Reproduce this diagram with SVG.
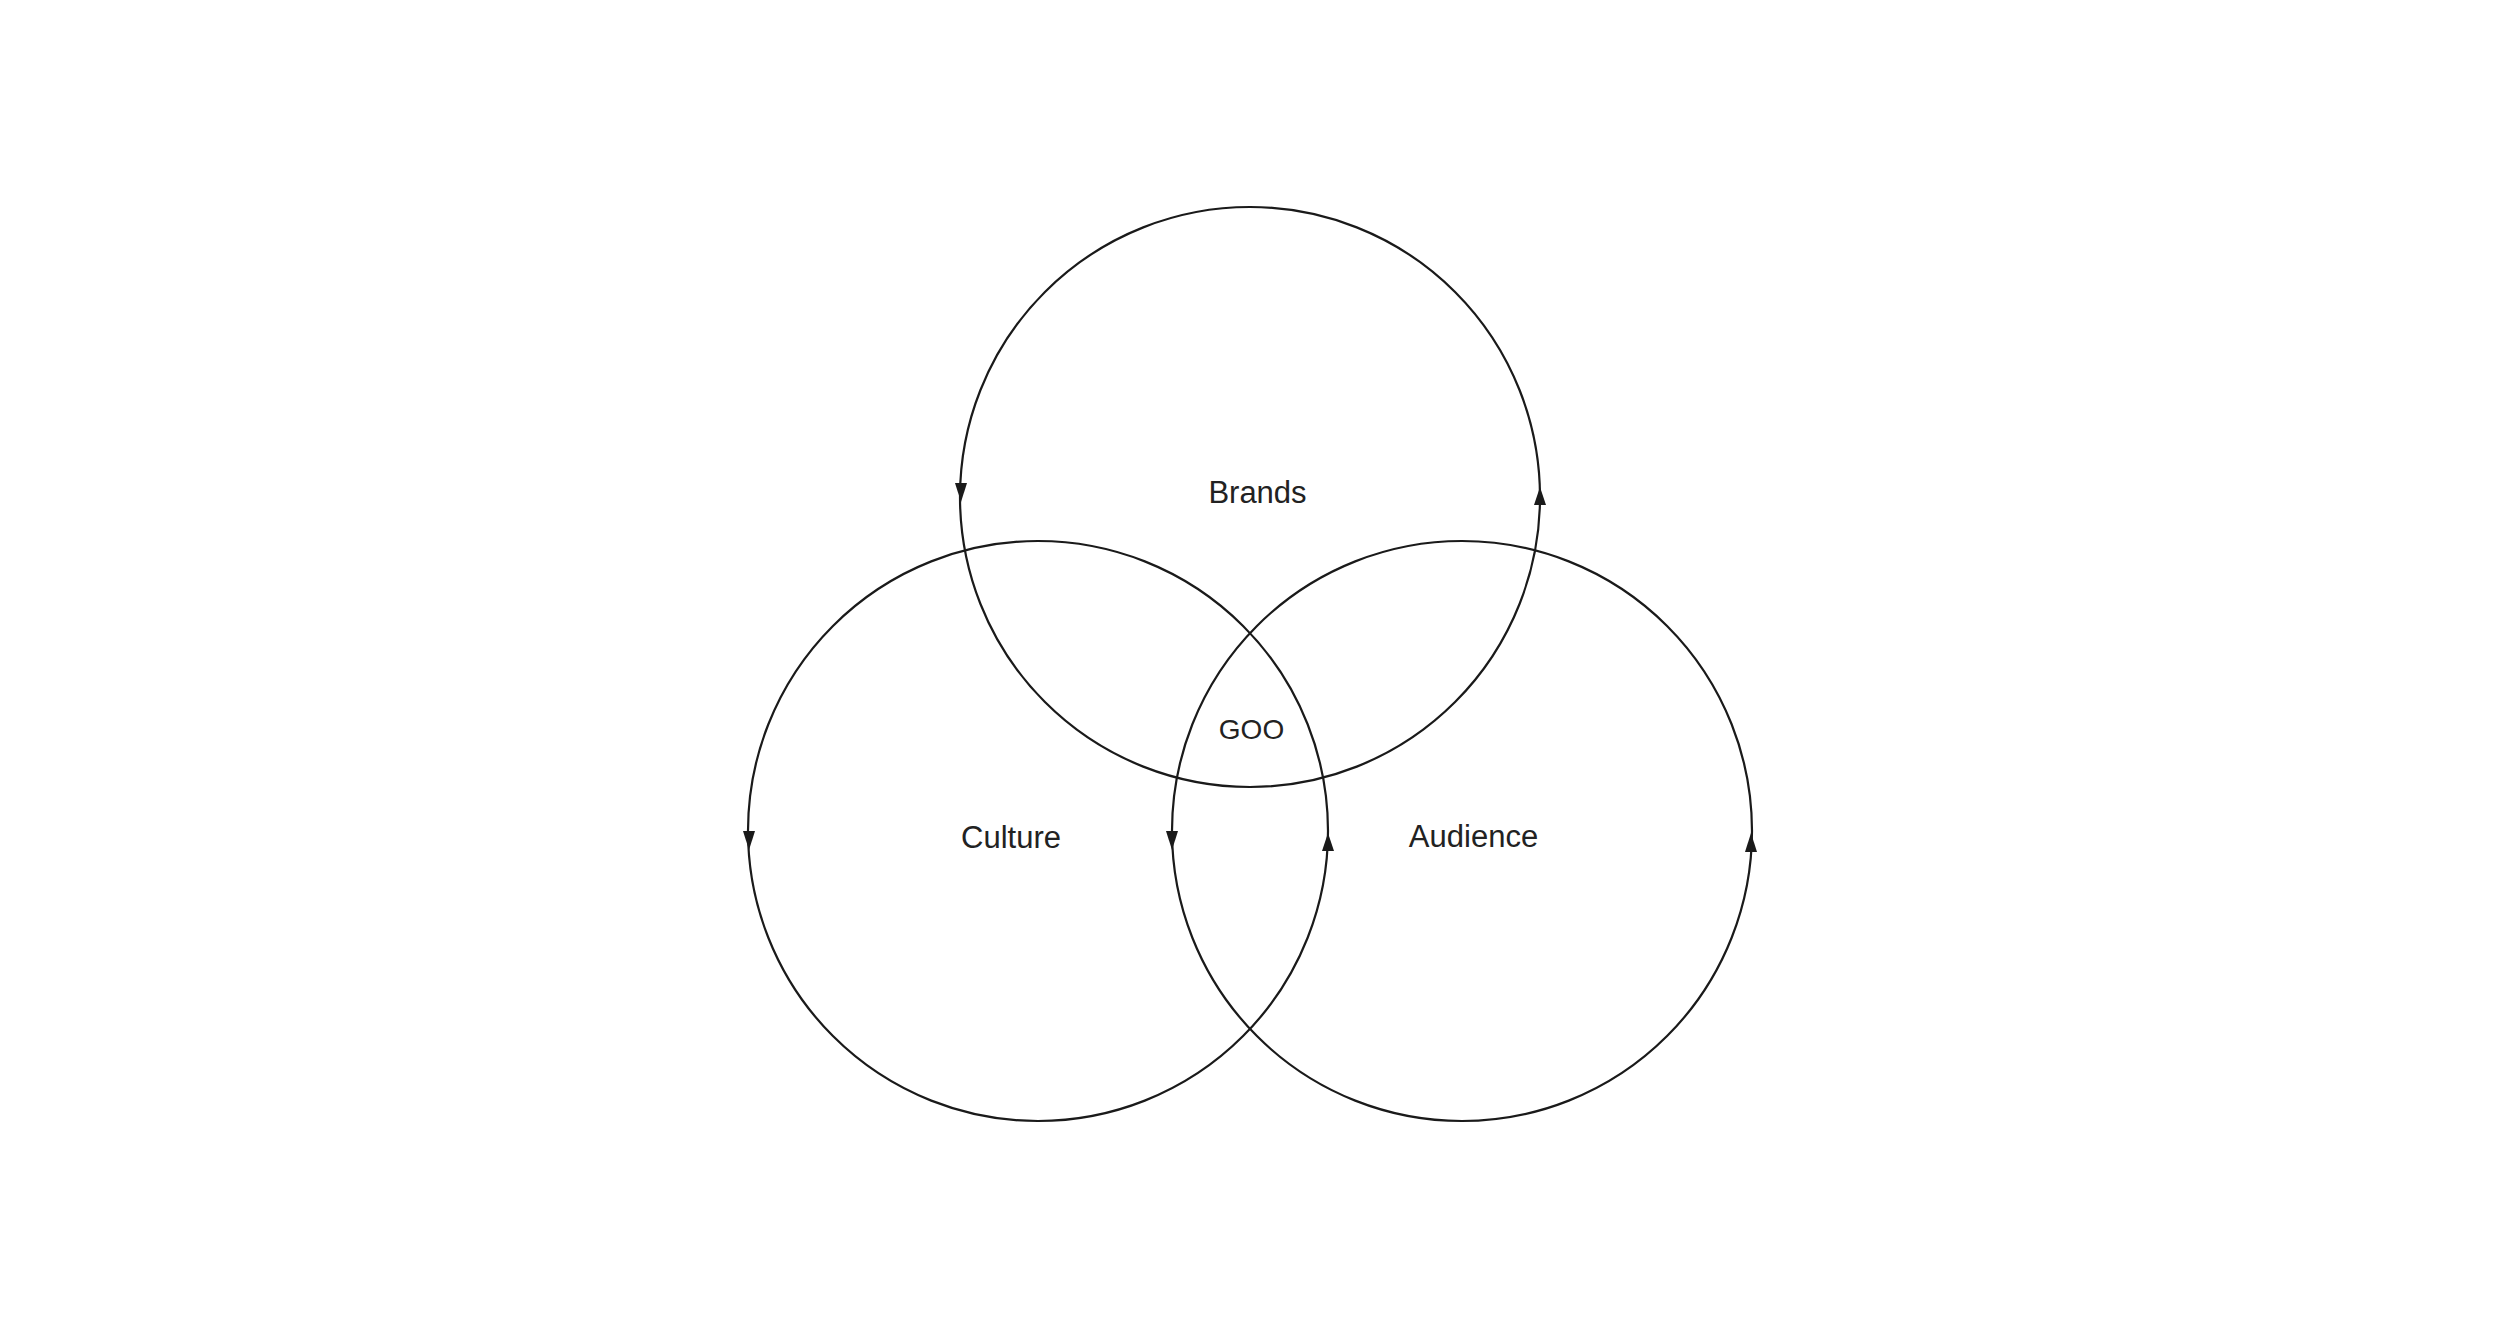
<svg xmlns="http://www.w3.org/2000/svg" width="2500" height="1328" viewBox="0 0 2500 1328">
<style>
.c{fill:none;stroke:#1a1a1a;stroke-width:2.2}
.a{fill:#1a1a1a;stroke:none}
.t{font-family:"Liberation Sans",Arial,sans-serif;font-size:31px;fill:#222;text-anchor:middle}
</style>
<rect width="2500" height="1328" fill="#fff"/>
<g id="connectors">
<polygon class="a" points="955,483 967,483 961,502"/>
<polygon class="a" points="1534,505 1546,505 1540,487"/>
<polygon class="a" points="743,831 755,831 749,850"/>
<polygon class="a" points="1166,831 1178,831 1172,850"/>
<polygon class="a" points="1322,851 1334,851 1328,833"/>
<polygon class="a" points="1745,852 1757,852 1751,833"/>
</g>
<g id="brands"><circle class="c" cx="1250" cy="497" r="290"/><text class="t" x="1257.5" y="503">Brands</text></g>
<g id="culture"><circle class="c" cx="1038" cy="831" r="290"/><text class="t" x="1011" y="848">Culture</text></g>
<g id="audience"><circle class="c" cx="1462" cy="831" r="290"/><text class="t" x="1473.5" y="847">Audience</text></g>
<g id="goo"><text class="t" x="1251.5" y="739" style="font-size:28px">GOO</text></g>
</svg>
